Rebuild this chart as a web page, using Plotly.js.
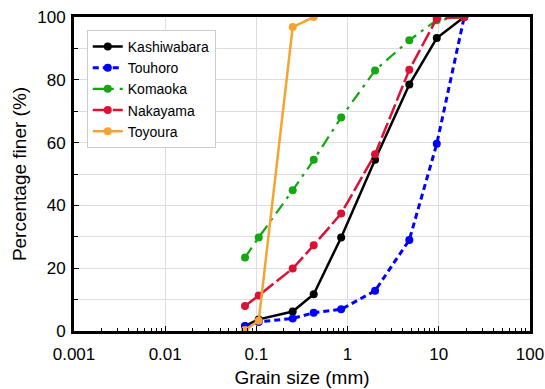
<!DOCTYPE html>
<html>
<head>
<meta charset="utf-8">
<script src="https://cdn.plot.ly/plotly-3.0.1.min.js"></script>
<style>html,body{margin:0;padding:0;background:#fff;}#chart{width:545px;height:389px;}</style>
</head>
<body>
<div id="chart"></div>
<script>
const sieveSizes = [0.075, 0.106, 0.25, 0.425, 0.85, 2, 4.75, 9.5, 19];
const toyouraSizes = [0.075, 0.106, 0.25, 0.425];

const kashiwabara = [1.6, 3.7, 6.2, 11.7, 29.8, 54.5, 78.5, 93.3, 100];
const touhoro = [1.5, 2.9, 4.0, 5.8, 6.9, 12.8, 29.0, 59.6, 100];
const komaoka = [23.4, 29.8, 44.8, 54.5, 68.0, 83.0, 92.6, 99.0, 100];
const nakayama = [8.0, 11.3, 19.9, 27.3, 37.4, 56.3, 83.2, 99.5, 100];
const toyoura = [0.3, 3.3, 96.8, 100];

const seriesNames = ['Kashiwabara', 'Touhoro', 'Komaoka', 'Nakayama', 'Toyoura'];
const xTickVals = [0.001, 0.01, 0.1, 1, 10, 100];
const xTickText = ['0.001', '0.01', '0.1', '1', '10', '100'];
const yTickVals = [0, 20, 40, 60, 80, 100];
const decades = [0.001, 0.01, 0.1, 1, 10];
const mantissas = [2, 3, 4, 5, 6, 7, 8, 9];

const xMinorVals = [];
decades.forEach(d => mantissas.forEach(m => xMinorVals.push(m * d)));

function tr(name, x, y, color, dash, width) {
  return {
    type: 'scatter', mode: 'lines+markers', name: name, x: x, y: y,
    line: {color: color, dash: dash, width: width},
    marker: {color: color, size: 8}
  };
}

const data = [
  tr(seriesNames[0], sieveSizes, kashiwabara, '#000000', 'solid', 2.5),
  tr(seriesNames[1], sieveSizes, touhoro, '#0000ff', '6px,4px', 3),
  tr(seriesNames[2], sieveSizes, komaoka, '#11a811', '12px,6px,3px,6px', 2.2),
  tr(seriesNames[3], sieveSizes, nakayama, '#dd1133', '16px,4px', 2.5),
  tr(seriesNames[4], toyouraSizes, toyoura, '#f5a431', 'solid', 2.5)
];

const layout = {
  width: 545, height: 389,
  margin: {l: 74, r: 15, t: 17, b: 58},
  paper_bgcolor: '#ffffff', plot_bgcolor: '#ffffff',
  font: {family: 'Liberation Sans, Arial, sans-serif', color: '#000', size: 16},
  showlegend: true,
  legend: {
    x: 0.028, y: 0.959, xanchor: 'left', yanchor: 'top',
    bordercolor: '#cccccc', borderwidth: 1, bgcolor: '#ffffff',
    font: {size: 14}, tracegroupgap: 0, itemwidth: 30
  },
  xaxis: {
    type: 'log', range: [-3, 2],
    tickvals: xTickVals, ticktext: xTickText,
    ticks: 'inside', ticklen: 5, tickcolor: '#000',
    ticklabelstandoff: 6,
    showline: true, linecolor: '#000', linewidth: 3, mirror: true,
    showgrid: true, gridcolor: '#dddddd', gridwidth: 1,
    zeroline: false,
    minor: {tickmode: 'array', tickvals: xMinorVals, ticks: 'inside', ticklen: 3, tickcolor: '#000', showgrid: false},
    title: {text: 'Grain size (mm)', font: {size: 19}, standoff: 8},
    tickfont: {size: 17}
  },
  yaxis: {
    range: [0, 100],
    tickvals: yTickVals,
    ticks: 'inside', ticklen: 5, tickcolor: '#000',
    ticklabelstandoff: 2,
    showline: true, linecolor: '#000', linewidth: 3, mirror: true,
    showgrid: true, gridcolor: '#dddddd', gridwidth: 1,
    zeroline: false,
    minor: {dtick: 10, ticks: 'inside', ticklen: 4, tickcolor: '#000', showgrid: true, gridcolor: '#dddddd'},
    title: {text: 'Percentage finer (%)', font: {size: 19}, standoff: 6},
    tickfont: {size: 17}
  }
};

Plotly.newPlot('chart', data, layout, {displayModeBar: false, staticPlot: true});
</script>
</body>
</html>
